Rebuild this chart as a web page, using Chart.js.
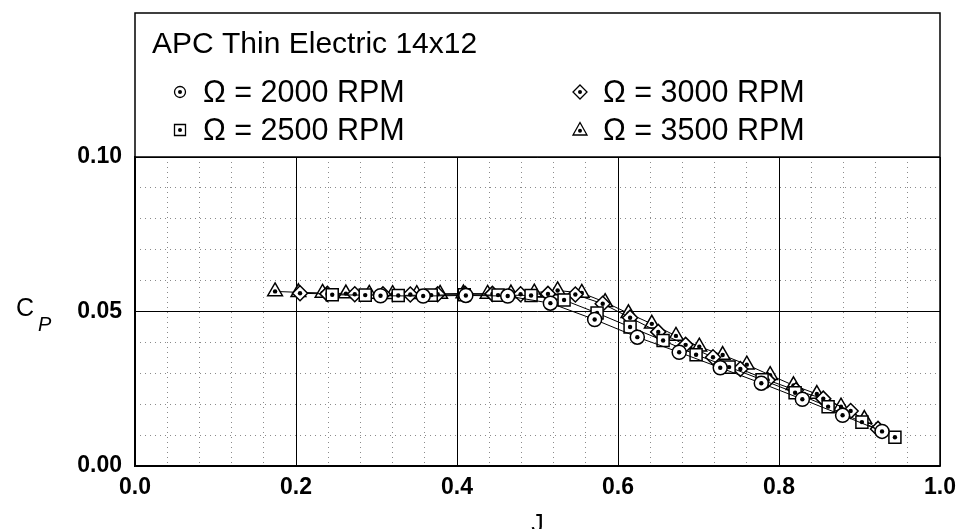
<!DOCTYPE html>
<html>
<head>
<meta charset="utf-8">
<title>APC Thin Electric 14x12</title>
<script src="https://cdn.jsdelivr.net/npm/chart.js@4.4.1/dist/chart.umd.min.js"></script>
<style>
    html, body { margin: 0; padding: 0; background: #fff; }
    #wrap { width: 969px; height: 529px; }
</style>
</head>
<body>
<div id="wrap"><canvas id="cpChart" width="969" height="529"></canvas></div>
<script>
// advance ratio J and power coefficient Cp, one pair of arrays per RPM
const j2000 = [0.305, 0.358, 0.411, 0.463, 0.516, 0.571, 0.624, 0.676, 0.727, 0.778, 0.829, 0.879, 0.928];
const cp2000 = [0.0551, 0.0550, 0.0552, 0.0550, 0.0527, 0.0474, 0.0417, 0.0368, 0.0318, 0.0268, 0.0216, 0.0164, 0.0112];

const j2500 = [0.245, 0.286, 0.327, 0.368, 0.409, 0.451, 0.492, 0.533, 0.574, 0.615, 0.656, 0.697, 0.738, 0.779, 0.820, 0.861, 0.903, 0.944];
const cp2500 = [0.0554, 0.0553, 0.0552, 0.0553, 0.0554, 0.0553, 0.0552, 0.0537, 0.0495, 0.0450, 0.0406, 0.0360, 0.0320, 0.0279, 0.0237, 0.0192, 0.0142, 0.0093];

const j3000 = [0.205, 0.239, 0.273, 0.308, 0.342, 0.376, 0.410, 0.444, 0.479, 0.513, 0.547, 0.581, 0.615, 0.650, 0.684, 0.718, 0.752, 0.786, 0.821, 0.855, 0.889, 0.923];
const cp3000 = [0.0559, 0.0557, 0.0556, 0.0556, 0.0555, 0.0556, 0.0557, 0.0557, 0.0556, 0.0557, 0.0555, 0.0525, 0.0480, 0.0434, 0.0392, 0.0352, 0.0314, 0.0278, 0.0245, 0.0218, 0.0178, 0.0120];

const j3500 = [0.174, 0.203, 0.233, 0.262, 0.291, 0.320, 0.350, 0.379, 0.408, 0.438, 0.467, 0.496, 0.525, 0.555, 0.584, 0.613, 0.642, 0.672, 0.701, 0.730, 0.760, 0.789, 0.818, 0.847, 0.877, 0.906];
const cp3500 = [0.0565, 0.0562, 0.0560, 0.0558, 0.0557, 0.0556, 0.0556, 0.0557, 0.0558, 0.0557, 0.0558, 0.0561, 0.0568, 0.0560, 0.0530, 0.0494, 0.0460, 0.0421, 0.0386, 0.0359, 0.0328, 0.0294, 0.0261, 0.0233, 0.0192, 0.0152];

const seriesLabels = ['Ω = 2000 RPM', 'Ω = 2500 RPM', 'Ω = 3000 RPM', 'Ω = 3500 RPM'];
const xTickLabels = ['0.0', '0.2', '0.4', '0.6', '0.8', '1.0'];
const yTickLabels = ['0.00', '0.05', '0.10'];
const chartTitle = 'APC Thin Electric 14x12';

const FONT = "'Liberation Sans', Arial, Helvetica, sans-serif";
const markerStyles = ['circle', 'rect', 'rectRot', 'triangle'];
const markerSizes = [7, 8.5, 7.5, 8.5];

function toPoints(xs, ys) {
    return xs.map((x, i) => ({ x: x, y: ys[i] }));
}

function isMajor(value, step) {
    const r = value / step;
    return Math.abs(r - Math.round(r)) < 1e-6;
}

// small legend marker, open shape with a dot in the middle
function drawLegendMarker(ctx, style, x, y) {
    ctx.save();
    ctx.lineWidth = 1.3;
    ctx.strokeStyle = '#000';
    ctx.fillStyle = '#fff';
    ctx.beginPath();
    if (style === 'circle') {
        ctx.arc(x, y, 5.5, 0, Math.PI * 2);
    } else if (style === 'rect') {
        ctx.rect(x - 5.5, y - 5.5, 11, 11);
    } else if (style === 'rectRot') {
        ctx.moveTo(x, y - 7);
        ctx.lineTo(x + 7, y);
        ctx.lineTo(x, y + 7);
        ctx.lineTo(x - 7, y);
        ctx.closePath();
    } else {
        ctx.moveTo(x, y - 7.5);
        ctx.lineTo(x + 7, y + 5);
        ctx.lineTo(x - 7, y + 5);
        ctx.closePath();
    }
    ctx.fill();
    ctx.stroke();
    ctx.fillStyle = '#000';
    ctx.beginPath();
    ctx.arc(x, y + (style === 'triangle' ? 0.8 : 0), 2, 0, Math.PI * 2);
    ctx.fill();
    ctx.restore();
}

const centerDots = {
    id: 'centerDots',
    afterDatasetDraw(chart, args) {
        const ctx = chart.ctx;
        ctx.save();
        ctx.fillStyle = '#000';
        args.meta.data.forEach(pt => {
            ctx.beginPath();
            ctx.arc(pt.x, pt.y, 2.2, 0, Math.PI * 2);
            ctx.fill();
        });
        ctx.restore();
    }
};

const frameAndLegend = {
    id: 'frameAndLegend',
    afterDraw(chart) {
        const { ctx, chartArea } = chart;
        const { left, right, top, bottom } = chartArea;
        const boxTop = top - 144;

        ctx.save();
        ctx.strokeStyle = '#000';
        ctx.lineWidth = 1.5;
        ctx.strokeRect(left, boxTop, right - left, bottom - boxTop);
        ctx.beginPath();
        ctx.moveTo(left, top);
        ctx.lineTo(right, top);
        ctx.stroke();

        ctx.fillStyle = '#000';
        ctx.textAlign = 'left';
        ctx.textBaseline = 'alphabetic';
        ctx.font = '30px ' + FONT;
        ctx.fillText(chartTitle, left + 17, boxTop + 40);

        // two columns: 2000/2500 on the left, 3000/3500 on the right
        const cols = [left + 45, left + 445];
        const rows = [boxTop + 79, boxTop + 117];
        ctx.font = '30.5px ' + FONT;
        seriesLabels.forEach((label, i) => {
            const cx = cols[Math.floor(i / 2)];
            const cy = rows[i % 2];
            drawLegendMarker(ctx, markerStyles[i], cx, cy);
            ctx.fillText(label, cx + 23, cy + 10);
        });

        // axis titles
        ctx.font = '25px ' + FONT;
        ctx.fillText('C', 16, 316);
        ctx.font = 'italic 20px ' + FONT;
        ctx.fillText('P', 38, 331);

        ctx.font = '25px ' + FONT;
        ctx.textAlign = 'center';
        ctx.fillText('J', (left + right) / 2, 532);
        ctx.restore();
    }
};

class PropellerChart {
    constructor() {
        this.canvas = document.getElementById('cpChart');
        this.build();
    }

    datasets() {
        const xs = [j2000, j2500, j3000, j3500];
        const ys = [cp2000, cp2500, cp3000, cp3500];
        return seriesLabels.map((label, i) => ({
            label: label,
            data: toPoints(xs[i], ys[i]),
            borderColor: '#000',
            borderWidth: 1,
            backgroundColor: '#fff',
            pointStyle: markerStyles[i],
            pointRadius: markerSizes[i],
            pointBorderWidth: 1.5,
            pointBorderColor: '#000',
            pointBackgroundColor: '#fff',
            tension: 0,
            fill: false
        }));
    }

    build() {
        Chart.defaults.font.family = FONT;
        Chart.defaults.color = '#000';

        const tickFont = { family: FONT, size: 23, weight: 'bold' };

        this.chart = new Chart(this.canvas, {
            type: 'line',
            data: { datasets: this.datasets() },
            plugins: [centerDots, frameAndLegend],
            options: {
                responsive: false,
                devicePixelRatio: 1,
                animation: false,
                layout: { padding: { left: 0, right: 29, top: 157, bottom: 0 } },
                plugins: {
                    legend: { display: false },
                    title: { display: false },
                    tooltip: { enabled: false }
                },
                scales: {
                    xm: {
                        type: 'linear',
                        position: 'bottom',
                        min: 0, max: 1,
                        ticks: { stepSize: 0.04, display: false },
                        grid: {
                            drawTicks: false,
                            color: ctx => isMajor(ctx.tick.value, 0.2) ? 'rgba(0,0,0,0)' : '#8a8a8a',
                            lineWidth: 1
                        },
                        border: { display: false, dash: [1, 4] },
                        afterFit: s => { s.height = 0; }
                    },
                    ym: {
                        type: 'linear',
                        position: 'left',
                        min: 0, max: 0.1,
                        ticks: { stepSize: 0.01, display: false },
                        grid: {
                            drawTicks: false,
                            color: ctx => isMajor(ctx.tick.value, 0.05) ? 'rgba(0,0,0,0)' : '#8a8a8a',
                            lineWidth: 1
                        },
                        border: { display: false, dash: [1, 4] },
                        afterFit: s => { s.width = 0; }
                    },
                    x: {
                        type: 'linear',
                        position: 'bottom',
                        min: 0, max: 1,
                        ticks: {
                            stepSize: 0.2,
                            maxRotation: 0,
                            padding: 8,
                            font: tickFont,
                            callback: (v, i) => xTickLabels[i]
                        },
                        grid: { drawTicks: false, color: '#000', lineWidth: 1 },
                        border: { display: true, color: '#000', width: 1.5 },
                        afterFit: s => { s.height = 63; }
                    },
                    y: {
                        type: 'linear',
                        position: 'left',
                        min: 0, max: 0.1,
                        ticks: {
                            stepSize: 0.05,
                            padding: 13,
                            font: tickFont,
                            callback: (v, i) => yTickLabels[i]
                        },
                        grid: { drawTicks: false, color: '#000', lineWidth: 1 },
                        border: { display: true, color: '#000', width: 1.5 },
                        afterFit: s => { s.width = 135; }
                    }
                }
            }
        });
    }
}

document.addEventListener('DOMContentLoaded', () => {
    new PropellerChart();
});
</script>
</body>
</html>
